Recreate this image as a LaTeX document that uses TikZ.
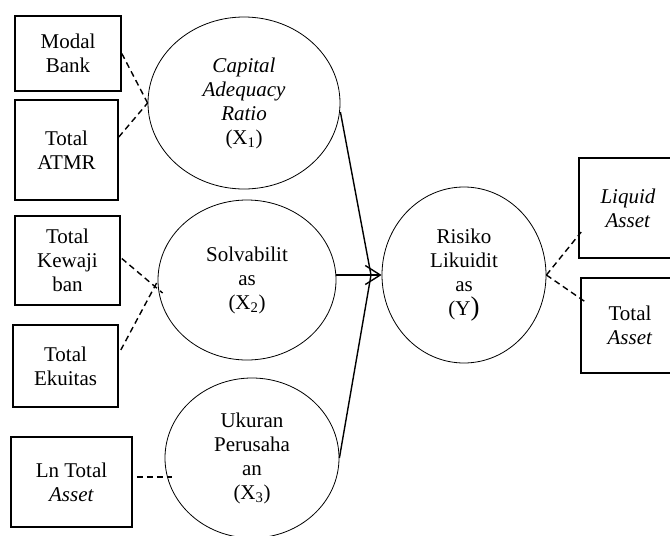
\documentclass[tikz,border=0pt]{standalone}
\usepackage{fontspec}
\setmainfont{Liberation Serif}
\usetikzlibrary{arrows,arrows.meta}
\usetikzlibrary{shapes.geometric}
\tikzset{>={Straight Barb[length=15pt,width=19pt]}}
\tikzset{
    indbox/.style={draw, line width=1.6pt, rectangle, align=center, inner sep=0pt},
    latent/.style={draw, line width=0.8pt, ellipse, align=center, inner sep=0pt},
    dashline/.style={line width=1.4pt, dash pattern=on 6pt off 4pt},
    pathline/.style={line width=1.4pt}
}

\begin{document}
\begin{tikzpicture}[x=1pt, y=-1pt, font=\fontsize{21}{24}\selectfont]
    \useasboundingbox (0,0) rectangle (670,536);
    \clip (0,0) rectangle (670,536);

    % indicators
    \node[indbox, minimum width=106pt, minimum height=75pt] (modal) at (68,53.5) {Modal\\Bank};
    \node[indbox, minimum width=103pt, minimum height=100pt] (atmr) at (66.5,150) {Total\\ATMR};
    \node[indbox, minimum width=105pt, minimum height=89pt] (kew) at (67.5,260.5) {Total\\Kewaji\\ban};
    \node[indbox, minimum width=105pt, minimum height=82pt] (ekuitas) at (65.5,366) {Total\\Ekuitas};
    \node[indbox, minimum width=121pt, minimum height=90pt] (ln) at (71.5,482) {Ln Total\\\textit{Asset}};
    \node[indbox, minimum width=98pt, minimum height=100pt] (liquid) at (628,208) {\textit{Liquid}\\\textit{Asset}};
    \node[indbox, minimum width=98pt, minimum height=95pt] (totasset) at (630,325.5) {Total\\\textit{Asset}};

    % variables
    \node[latent, minimum width=192pt, minimum height=172pt] (car) at (244,103) {\textit{Capital}\\\textit{Adequacy}\\\textit{Ratio}\\(X\textsubscript{1})};
    \node[latent, minimum width=178pt, minimum height=160pt] (solv) at (247,280) {Solvabilit\\as\\(X\textsubscript{2})};
    \node[latent, minimum width=174pt, minimum height=160pt] (ukuran) at (252,458) {Ukuran\\Perusaha\\an\\(X\textsubscript{3})};
    \node[latent, minimum width=164pt, minimum height=176pt] (risk) at (464,275) {Risiko\\Likuidit\\as\\(Y{\fontsize{27}{27}\selectfont )}};
    \coordinate (meet) at (371,275);

    \begin{scope}[dashline]
        \draw (modal.east) -- (car.west);
        \draw ([yshift=13pt]atmr.east) -- (car.west);
        \draw ([xshift=1pt,yshift=2pt]kew.east) -- ([xshift=5pt,yshift=-13pt]solv.west);
        \draw ([xshift=2pt,yshift=16pt]ekuitas.east) -- ([xshift=-1pt,yshift=-3pt]solv.west);
        \draw ([xshift=4pt,yshift=5pt]ln.east) -- ([xshift=7pt,yshift=-19pt]ukuran.west);
        \draw (risk.east) -- ([xshift=3pt,yshift=-24pt]liquid.west);
        \draw (risk.east) -- ([xshift=6pt,yshift=23pt]totasset.west);
    \end{scope}

    \begin{scope}[pathline]
        \draw ([yshift=-9pt]car.east) -- (meet);
        \draw (ukuran.east) -- (meet);
        \draw[->] (solv.east |- risk.west) -- (risk.west);
    \end{scope}
\end{tikzpicture}
\end{document}
